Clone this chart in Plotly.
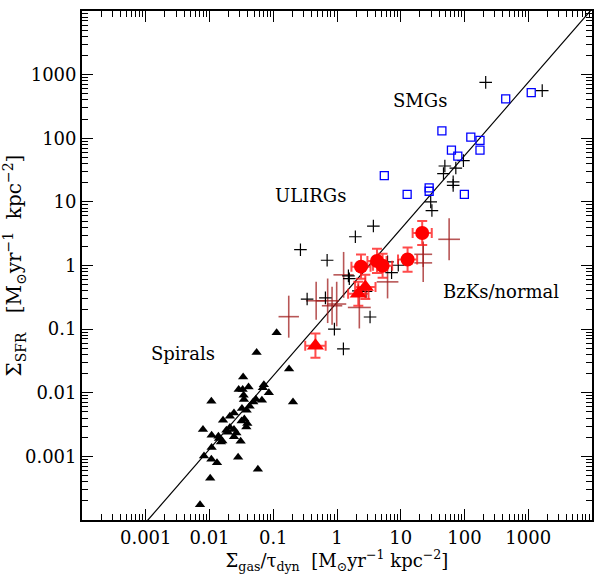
import numpy as np
import plotly.graph_objects as go

# ---------------- data ----------------
spiral_x = [0.113, 0.0548, 0.177, 0.204, 0.0337, 0.0287, 0.0331, 0.0410, 0.0713, 0.0853,
            0.0687, 0.0343, 0.0347, 0.0534, 0.0664, 0.0486, 0.0107, 0.0426, 0.0323, 0.0382,
            0.0242, 0.0209, 0.0163, 0.0352, 0.0392, 0.0319, 0.0378, 0.0079, 0.0209, 0.0242,
            0.0184, 0.0264, 0.0108, 0.0138, 0.0242, 0.0151, 0.0141, 0.0159, 0.0308, 0.0108,
            0.0082, 0.0107, 0.0131, 0.0281, 0.0574, 0.01026, 0.0071, 0.0195]
spiral_y = [0.088, 0.0429, 0.0237, 0.00714, 0.0177, 0.0112, 0.0112, 0.0123, 0.0134, 0.0100,
            0.0120, 0.0091, 0.0078, 0.00789, 0.0076, 0.00715, 0.00733, 0.00612, 0.00564, 0.00531,
            0.00481, 0.00427, 0.0037, 0.00388, 0.00328, 0.0036, 0.0029, 0.00265, 0.00285, 0.00265,
            0.00258, 0.00234, 0.00215, 0.00207, 0.00203, 0.00169, 0.00191, 0.00175, 0.00173, 0.00138,
            0.00101, 0.000898, 0.000794, 0.000966, 0.000625, 0.000453, 0.000173, 0.0024]

ulirg_x = [215, 1656, 49.2, 46.8, 73.1, 96.2, 66.4, 66.4, 30.8, 29.5, 3.72, 1.94, 0.267,
           0.70, 6.21, 9.14, 7.18, 1.51, 1.56, 2.16, 2.85, 0.34, 0.658, 3.30, 0.91, 1.26]
ulirg_y = [755, 560, 36.6, 27.8, 34.0, 44.5, 20.6, 18.2, 7.3, 10.0, 4.17, 2.83, 1.77,
           1.21, 1.14, 1.01, 0.774, 0.687, 0.62, 0.40, 0.39, 0.297, 0.31, 0.155, 0.10, 0.049]

smg_x = [44.2, 125.6, 175, 175, 62.4, 78.5, 443, 1114, 5.52, 12.6, 27.9, 27.9, 99.5]
smg_y = [131, 104, 92.5, 65.2, 65.2, 52.5, 415, 521, 25.9, 13.1, 16.6, 14.7, 13.1]

# BzK galaxies with CO (filled red circles), error in dex
bzk_x = [21.7, 12.8, 2.38, 4.24, 5.19]
bzk_y = [3.24, 1.24, 0.96, 1.18, 0.99]
bzk_xerr_dex = [0.15, 0.15, 0.15, 0.15, 0.15]
bzk_yerr_dex = [0.19, 0.19, 0.19, 0.19, 0.19]

# filled red triangles
tri_x = [0.459, 2.78, 2.16]
tri_y = [0.055, 0.46, 0.36]
tri_xerr_dex = [0.16, 0.16, 0.16]
tri_yerr_dex = [0.19, 0.19, 0.19]

# normal galaxies, error crosses only
norm_x = [57.4, 22.5, 22.5, 0.175, 0.471, 0.714, 0.837, 0.989, 1.27, 2.24, 6.21]
norm_y = [2.58, 1.50, 1.10, 0.157, 0.279, 0.279, 0.233, 0.248, 0.713, 0.219, 0.553]
norm_xerr_dex = [0.17, 0.14, 0.14, 0.16, 0.16, 0.18, 0.16, 0.15, 0.16, 0.18, 0.17]
norm_yerr_dex = [0.33, 0.20, 0.30, 0.33, 0.30, 0.35, 0.30, 0.35, 0.36, 0.33, 0.26]

# best-fit relation  log S_SFR = slope * log(S_gas/t_dyn) + norm
fit_slope = 1.153
fit_norm = -0.58
fit_x = [1e-4, 1e4]

tick_vals = [1e-3, 1e-2, 1e-1, 1, 10, 100, 1000]
tick_text = ["0.001", "0.01", "0.1", "1", "10", "100", "1000"]

labels = ["SMGs", "ULIRGs", "BzKs/normal", "Spirals"]
label_pos = [(1.305, 2.592), (-0.416, 1.105), (2.573, -0.413), (-2.419, -1.383)]


def err_plus(v, d):
    return [a * (10 ** e - 1) for a, e in zip(v, d)]


def err_minus(v, d):
    return [a * (1 - 10 ** (-e)) for a, e in zip(v, d)]


FONT = "DejaVu Serif"
fig = go.Figure()

fit_y = [10 ** (fit_slope * np.log10(x) + fit_norm) for x in fit_x]
fig.add_trace(go.Scatter(x=fit_x, y=fit_y, mode="lines",
                         line=dict(color="black", width=1.2), showlegend=False))

fig.add_trace(go.Scatter(
    x=norm_x, y=norm_y, mode="markers",
    marker=dict(size=1, color="rgba(0,0,0,0)"),
    error_x=dict(type="data", symmetric=False, array=err_plus(norm_x, norm_xerr_dex),
                 arrayminus=err_minus(norm_x, norm_xerr_dex), color="rgba(160,30,30,0.75)",
                 thickness=1.6, width=0),
    error_y=dict(type="data", symmetric=False, array=err_plus(norm_y, norm_yerr_dex),
                 arrayminus=err_minus(norm_y, norm_yerr_dex), color="rgba(160,30,30,0.75)",
                 thickness=1.6, width=0),
    showlegend=False))

fig.add_trace(go.Scatter(x=spiral_x, y=spiral_y, mode="markers",
                         marker=dict(symbol="triangle-up", size=9, color="black"),
                         showlegend=False))

fig.add_trace(go.Scatter(x=ulirg_x, y=ulirg_y, mode="markers",
                         marker=dict(symbol="cross-thin", size=9,
                                     line=dict(color="black", width=1.2)),
                         showlegend=False))

fig.add_trace(go.Scatter(x=smg_x, y=smg_y, mode="markers",
                         marker=dict(symbol="square-open", size=8, color="blue",
                                     line=dict(color="blue", width=1.3)),
                         showlegend=False))

ecol = "rgba(255,30,30,0.8)"
fig.add_trace(go.Scatter(
    x=tri_x, y=tri_y, mode="markers",
    marker=dict(symbol="triangle-up", size=15, color="#ff0000"),
    error_x=dict(type="data", symmetric=False, array=err_plus(tri_x, tri_xerr_dex),
                 arrayminus=err_minus(tri_x, tri_xerr_dex), color=ecol, thickness=2, width=5),
    error_y=dict(type="data", symmetric=False, array=err_plus(tri_y, tri_yerr_dex),
                 arrayminus=err_minus(tri_y, tri_yerr_dex), color=ecol, thickness=2, width=5),
    showlegend=False))

fig.add_trace(go.Scatter(
    x=bzk_x, y=bzk_y, mode="markers",
    marker=dict(symbol="circle", size=14, color="#ff0000"),
    error_x=dict(type="data", symmetric=False, array=err_plus(bzk_x, bzk_xerr_dex),
                 arrayminus=err_minus(bzk_x, bzk_xerr_dex), color=ecol, thickness=2, width=5),
    error_y=dict(type="data", symmetric=False, array=err_plus(bzk_y, bzk_yerr_dex),
                 arrayminus=err_minus(bzk_y, bzk_yerr_dex), color=ecol, thickness=2, width=5),
    showlegend=False))

for txt, (lx, ly) in zip(labels, label_pos):
    fig.add_annotation(x=lx, y=ly, xref="x", yref="y", text=txt, showarrow=False,
                       font=dict(family=FONT, size=18, color="black"))

minor_vals = [k * 10.0 ** n for n in range(-4, 4) for k in range(2, 10)]

axis_common = dict(
    type="log", range=[-4, 4], tickmode="array", tickvals=tick_vals, ticktext=tick_text,
    ticks="inside", ticklen=11, tickwidth=1.2, tickcolor="black",
    showline=True, linecolor="black", linewidth=1.8, mirror="allticks",
    showgrid=False, zeroline=False,
    tickfont=dict(family=FONT, size=18, color="black"),
    minor=dict(tickmode="array", tickvals=minor_vals, ticks="inside", ticklen=6,
               tickwidth=1, tickcolor="black", showgrid=False),
)

fig.update_xaxes(**axis_common,
                 title=dict(text="Σ<sub>gas</sub>/τ<sub>dyn</sub>  [M<sub>⊙</sub>yr<sup>−1</sup> kpc<sup>−2</sup>]",
                            font=dict(family=FONT, size=18, color="black"), standoff=6))
fig.update_yaxes(**axis_common,
                 title=dict(text="Σ<sub>SFR</sub>   [M<sub>⊙</sub>yr<sup>−1</sup>  kpc<sup>−2</sup>]",
                            font=dict(family=FONT, size=20, color="black"), standoff=2))

fig.update_layout(
    width=612, height=583,
    margin=dict(l=82, r=20, t=9, b=63),
    plot_bgcolor="white", paper_bgcolor="white",
    showlegend=False,
)

fig.write_html("out.html", config={"displayModeBar": False},
               post_script="document.body.style.margin='0';")
